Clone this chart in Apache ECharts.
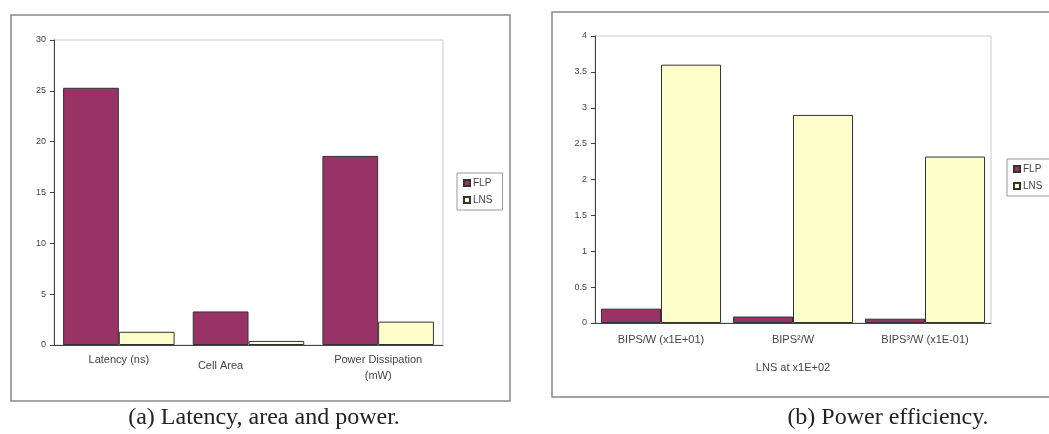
<!DOCTYPE html>
<html>
<head>
<meta charset="utf-8">
<script src="https://cdn.jsdelivr.net/npm/echarts@6/dist/echarts.min.js"></script>
<style>
  html, body { margin: 0; padding: 0; background: #fff; }
  #chart { width: 1049px; height: 434px; }
</style>
</head>
<body>
<div id="chart"></div>
<script>
// (a) latency, area and power
var catsA = ['Latency (ns)', 'Cell Area', 'Power Dissipation\n(mW)'];
var flpA = [25.3, 3.3, 18.6];
var lnsA = [1.3, 0.4, 2.3];
var ticksA = [0, 5, 10, 15, 20, 25, 30];

// (b) power efficiency
var catsB = ['BIPS/W (x1E+01)', 'BIPS\u00b2/W', 'BIPS\u00b3/W (x1E-01)'];
var flpB = [0.2, 0.09, 0.06];
var lnsB = [3.6, 2.9, 2.32];
var ticksB = [0, 0.5, 1, 1.5, 2, 2.5, 3, 3.5, 4];

var captions = ['(a) Latency, area and power.', '(b) Power efficiency.'];

var FLP_COLOR = '#993366';
var LNS_COLOR = '#ffffcc';
var FONT = 'Liberation Sans';

function yAxisFor(grid, ticks) {
    return {
        type: 'value',
        gridIndex: grid,
        min: ticks[0],
        max: ticks[ticks.length - 1],
        interval: ticks[1] - ticks[0],
        splitLine: { show: false },
        axisLine: { show: true, lineStyle: { color: '#444' } },
        axisTick: { show: true, length: 4, lineStyle: { color: '#444' } },
        axisLabel: { color: '#444', fontSize: 9, fontFamily: FONT, margin: 8 }
    };
}

function legendAt(left, top) {
    return {
        orient: 'vertical',
        left: left,
        top: top,
        data: ['FLP', 'LNS'],
        icon: 'rect',
        itemWidth: 6,
        itemHeight: 6,
        itemGap: 7,
        padding: [5, 10, 5, 6],
        borderColor: '#999',
        borderWidth: 1,
        selectedMode: false,
        textStyle: { fontSize: 10, fontFamily: FONT, color: '#444', padding: [0, 0, 0, -2] }
    };
}

function barSeries(name, data, x, y, color, gap) {
    return {
        name: name,
        type: 'bar',
        xAxisIndex: x,
        yAxisIndex: y,
        data: data,
        barGap: '0%',
        barCategoryGap: gap,
        itemStyle: { color: color, borderColor: '#333', borderWidth: 1 }
    };
}

var option = {
    animation: false,
    backgroundColor: '#fff',
    legend: [legendAt(457, 173), legendAt(1007, 159)],
    grid: [
        { left: 54, top: 40, width: 389, height: 305, show: true, borderColor: '#c8c8c8', outerBoundsMode: 'none' },
        { left: 595, top: 36, width: 396, height: 287, show: true, borderColor: '#c8c8c8', outerBoundsMode: 'none' }
    ],
    xAxis: [
        {
            type: 'category',
            gridIndex: 0,
            data: catsA,
            axisLine: { lineStyle: { color: '#444' } },
            axisTick: { length: 4, lineStyle: { color: '#444' } },
            axisLabel: {
                color: '#444', fontSize: 11, fontFamily: FONT, lineHeight: 16, margin: 7,
                interval: 0,
                formatter: function (v) {
                    return v === 'Cell Area' ? '{shift|' + v + '}' : v;
                },
                rich: { shift: { fontSize: 11, fontFamily: FONT, color: '#444', padding: [12, 56, 0, 0] } }
            }
        },
        {
            type: 'category',
            gridIndex: 1,
            data: catsB,
            name: 'LNS at x1E+02',
            nameLocation: 'middle',
            nameGap: 39,
            nameTextStyle: { color: '#444', fontSize: 11, fontFamily: FONT },
            axisLine: { lineStyle: { color: '#444' } },
            axisTick: { length: 4, lineStyle: { color: '#444' } },
            axisLabel: { color: '#444', fontSize: 11, fontFamily: FONT, margin: 11, interval: 0 }
        }
    ],
    yAxis: [yAxisFor(0, ticksA), yAxisFor(1, ticksB)],
    series: [
        barSeries('FLP', flpA, 0, 0, FLP_COLOR, '14%'),
        barSeries('LNS', lnsA, 0, 0, LNS_COLOR, '14%'),
        barSeries('FLP', flpB, 1, 1, FLP_COLOR, '9%'),
        barSeries('LNS', lnsB, 1, 1, LNS_COLOR, '9%')
    ],
    graphic: [
        { type: 'rect', shape: { x: 11, y: 15, width: 499, height: 386 },
          style: { fill: null, stroke: '#888', lineWidth: 1.5 }, z: -1 },
        { type: 'rect', shape: { x: 552, y: 12, width: 520, height: 385 },
          style: { fill: null, stroke: '#888', lineWidth: 1.5 }, z: -1 },
        { type: 'text', x: 264, y: 418,
          style: { text: captions[0], fontSize: 24, fontFamily: 'Liberation Serif', fill: '#222',
                   textAlign: 'center', textVerticalAlign: 'middle' } },
        { type: 'text', x: 888, y: 418,
          style: { text: captions[1], fontSize: 24, fontFamily: 'Liberation Serif', fill: '#222',
                   textAlign: 'center', textVerticalAlign: 'middle' } }
    ]
};

var myChart = echarts.init(document.getElementById('chart'));
myChart.setOption(option);
</script>
</body>
</html>
